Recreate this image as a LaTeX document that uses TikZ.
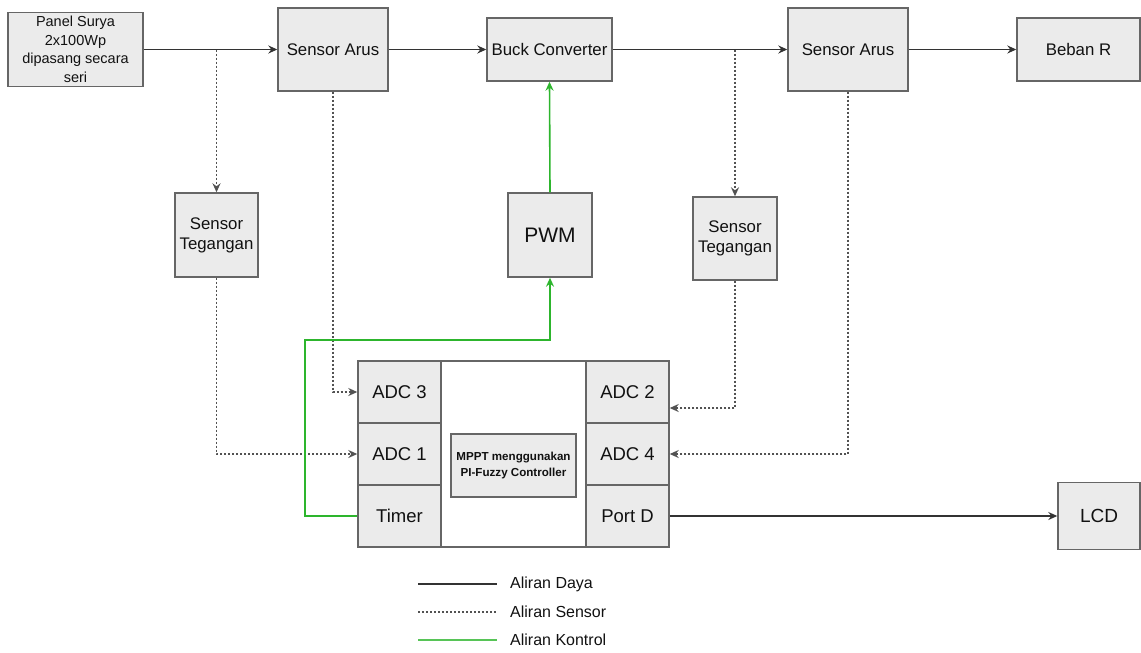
\documentclass[tikz,border=0pt]{standalone}
\usepackage{fontspec}
\setmainfont{Liberation Sans}
\usetikzlibrary{arrows.meta}
\definecolor{boxfill}{HTML}{EBEBEB}
\definecolor{boxline}{HTML}{666666}
\definecolor{txt}{HTML}{111111}
\definecolor{wire}{HTML}{333333}
\definecolor{ctrl}{HTML}{2DB52D}
\tikzset{
  blk/.style={draw=boxline, fill=boxfill, line width=1.4pt, inner sep=0pt,
    align=center, text=txt, font=\fontsize{16.8}{20}\selectfont},
  cell/.style={blk, minimum width=83pt, minimum height=62pt,
    font=\fontsize{18.5}{21}\selectfont},
  tip/.style={-{Stealth[length=9pt,width=8pt,inset=3pt]}},
  power/.style={draw=wire, line width=1.6pt},
  sensor/.style={draw=wire!85, line width=1.5pt, dash pattern=on 2pt off 2pt},
  control/.style={draw=ctrl, line width=1.6pt},
  legtxt/.style={anchor=west, inner sep=0pt, text=txt, font=\fontsize{16}{19}\selectfont}
}
\begin{document}
\begin{tikzpicture}[x=1pt,y=-1pt]
\useasboundingbox (0,0) rectangle (1141,653);

% power path blocks
\node[blk, minimum width=135pt, minimum height=74pt, font=\fontsize{14.5}{18.5}\selectfont]
  (panel) at (75.5,49.5) {Panel Surya\\2x100Wp\\dipasang secara\\seri};
\node[blk, minimum width=110pt, minimum height=83pt] (sa1) at (333,49.5) {Sensor Arus};
\node[blk, minimum width=125pt, minimum height=63pt] (buck) at (549.5,49.5) {Buck Converter};
\node[blk, minimum width=120pt, minimum height=83pt] (sa2) at (848,49.5) {Sensor Arus};
\node[blk, minimum width=123pt, minimum height=63pt] (load) at (1078.5,49.5) {Beban R};

% middle row
\node[blk, minimum width=83pt, minimum height=84pt] (st1) at (216.5,235) {Sensor\\Tegangan};
\node[blk, minimum width=84pt, minimum height=84pt, font=\fontsize{21}{24}\selectfont]
  (pwm) at (550,235) {PWM};
\node[blk, minimum width=84pt, minimum height=83pt] (st2) at (735,238.5) {Sensor\\Tegangan};

% microcontroller
\node[draw=boxline, fill=white, line width=1.4pt, minimum width=311pt, minimum height=186pt,
  inner sep=0pt] (mcu) at (513.5,454) {};
\node[cell] (adc3) at (399.5,392) {ADC 3};
\node[cell] (adc1) at (399.5,454) {ADC 1};
\node[cell] (timer) at (399.5,516) {Timer};
\node[cell] (adc2) at (627.5,392) {ADC 2};
\node[cell] (adc4) at (627.5,454) {ADC 4};
\node[cell] (portd) at (627.5,516) {Port D};
\node[blk, minimum width=125pt, minimum height=63pt, font=\bfseries\fontsize{11.6}{16}\selectfont]
  (mppt) at (513.5,465.5) {MPPT menggunakan\\PI-Fuzzy Controller};

\node[blk, minimum width=82pt, minimum height=67pt, font=\fontsize{19}{22}\selectfont]
  (lcd) at (1099,516) {LCD};

% power flow
\draw[power, tip] (panel.east) -- (sa1.west);
\draw[power, tip] (sa1.east) -- (buck.west);
\draw[power, tip] (buck.east) -- (sa2.west);
\draw[power, tip] (sa2.east) -- (load.west);
\draw[power, tip] (portd.east) -- (lcd.west);

% sensor flow
\coordinate (tapA) at (216.5,49.5);
\coordinate (tapB) at (735,49.5);
\draw[sensor, tip] (tapA) -- (st1.north);
\draw[sensor, tip] (tapB) -- (st2.north);
\draw[sensor, tip] (sa1.south) |- (adc3.west);
\draw[sensor, tip] (st1.south) |- (adc1.west);
\draw[sensor, tip] (st2.south) |- ([yshift=-16pt]adc2.east);
\draw[sensor, tip] (sa2.south) |- (adc4.east);

% control flow
\coordinate (bend) at (305,340);
\draw[control, tip] (timer.west) -| (bend) -| (pwm.south);
\draw[control, tip] (pwm.north) -- (buck.south);

% legend
\coordinate (la1) at (418,584); \coordinate (lb1) at (497,584);
\coordinate (la2) at (418,612); \coordinate (lb2) at (497,612);
\coordinate (la3) at (418,640); \coordinate (lb3) at (497,640);
\draw[power] (la1) -- (lb1);
\draw[sensor] (la2) -- (lb2);
\draw[control, draw=ctrl!80] (la3) -- (lb3);
\node[legtxt] (t1) at (510,584) {Aliran Daya};
\node[legtxt] (t2) at (510,612) {Aliran Sensor};
\node[legtxt] (t3) at (510,640) {Aliran Kontrol};
\end{tikzpicture}
\end{document}
